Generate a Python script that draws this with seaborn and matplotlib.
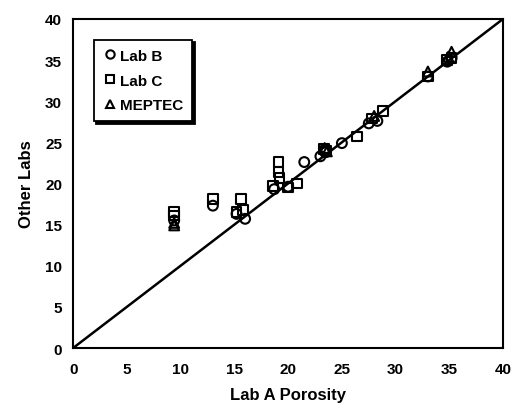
import numpy as np
import pandas as pd
import matplotlib
matplotlib.use("Agg")
import matplotlib.pyplot as plt
import seaborn as sns

labB_x = [9.4, 13.0, 15.2, 16.0, 18.7, 20.0, 21.5, 23.0, 23.5, 25.0, 27.5, 28.3, 33.0, 34.8, 35.2]
labB_y = [15.5, 17.3, 16.3, 15.7, 19.3, 19.6, 22.6, 23.3, 23.8, 24.9, 27.3, 27.6, 33.0, 34.8, 35.2]
labC_x = [9.4, 9.4, 13.0, 15.2, 15.6, 15.8, 18.6, 19.1, 19.1, 19.2, 20.0, 20.8, 23.3, 23.5, 26.4, 27.8, 28.8, 33.0, 34.8, 35.2]
labC_y = [16.5, 16.1, 18.1, 16.5, 18.1, 16.8, 19.7, 22.6, 21.4, 20.7, 19.5, 20.0, 24.2, 24.0, 25.7, 27.9, 28.8, 33.0, 35.0, 35.2]
mep_x = [9.4, 9.4, 23.4, 23.6, 28.0, 33.0, 35.2, 34.9]
mep_y = [15.2, 14.9, 24.3, 23.9, 28.2, 33.6, 36.0, 35.4]
series_names = ["Lab B", "Lab C", "MEPTEC"]
ticks = [0, 5, 10, 15, 20, 25, 30, 35, 40]

df = pd.concat([
    pd.DataFrame({"x": labB_x, "y": labB_y, "lab": series_names[0]}),
    pd.DataFrame({"x": labC_x, "y": labC_y, "lab": series_names[1]}),
    pd.DataFrame({"x": mep_x, "y": mep_y, "lab": series_names[2]}),
])

sns.set_style("white")
plt.rcParams['font.family'] = ['Liberation Sans', 'DejaVu Sans']
plt.rcParams['text.color'] = 'black'
plt.rcParams['axes.labelcolor'] = 'black'
plt.rcParams['xtick.color'] = 'black'
plt.rcParams['ytick.color'] = 'black'

fig = plt.figure(figsize=(5.15, 4.14), dpi=100)
ax = fig.add_axes([0.142, 0.157, 0.835, 0.795])

ax.plot([0, 40], [0, 40], color="black", lw=1.8, zorder=1)

sns.scatterplot(data=df, x="x", y="y", style="lab", hue="lab",
                palette={n: "black" for n in series_names},
                markers={"Lab B": "o", "Lab C": "s", "MEPTEC": "^"},
                s=50, facecolor="none", edgecolor="black", linewidth=1.5,
                ax=ax, zorder=3, legend=False)
for coll in ax.collections:
    coll.set_facecolor("none")
    coll.set_edgecolor("black")

ax.set_xlim(0, 40)
ax.set_ylim(0, 40)
ax.set_xticks(ticks)
ax.set_yticks(ticks)
ax.set_xticklabels([str(t) for t in ticks], fontsize=11, fontweight="bold")
ax.set_yticklabels([str(t) for t in ticks], fontsize=11, fontweight="bold")
ax.tick_params(direction="in", length=4, width=1.2, colors="black", pad=8)
ax.tick_params(axis="x", pad=10)
for sp in ax.spines.values():
    sp.set_visible(True)
    sp.set_color("black")
    sp.set_linewidth(1.5)

ax.set_xlabel("Lab A Porosity", fontsize=12, fontweight="bold", labelpad=8, color="black")
ax.set_ylabel("Other Labs", fontsize=12, fontweight="bold", labelpad=8, color="black")

from matplotlib.lines import Line2D
handles = [Line2D([], [], marker=m, color="black", markerfacecolor="none",
                  markeredgewidth=1.5, markersize=6, linestyle="none")
           for m in ["o", "s", "^"]]
leg = ax.legend(handles, series_names, loc="upper left",
                bbox_to_anchor=(0.03, 0.96), frameon=True, fancybox=False,
                shadow={"color": "black", "alpha": 1.0, "ox": 2, "oy": -2},
                handletextpad=0.1,
                handlelength=1.0, borderpad=0.6, labelspacing=0.7,
                prop={"size": 11, "weight": "bold"})
leg.get_frame().set_edgecolor("black")
leg.get_frame().set_linewidth(1.3)
for t in leg.get_texts():
    t.set_color("black")

fig.savefig("out.png", dpi=100)
